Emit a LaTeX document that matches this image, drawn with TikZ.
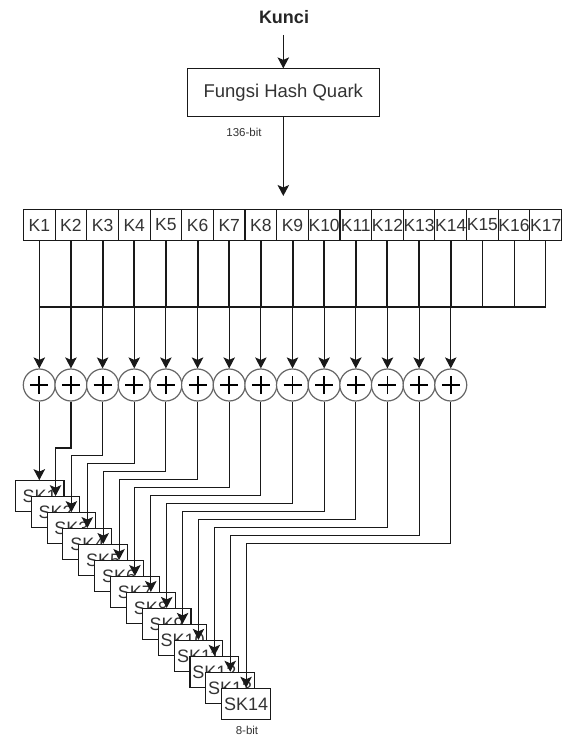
\documentclass[tikz,border=0pt]{standalone}
\usepackage{fontspec}
\setmainfont{Liberation Sans}
\usetikzlibrary{arrows.meta}
\begin{document}
\begin{tikzpicture}[x=1pt,y=1pt,
  ln/.style={line width=1.1pt,draw=black!90},
  arr/.style={ln,-{Stealth[length=11pt,width=11.5pt,inset=2.5pt]}},
  kcell/.style={draw=black!90,line width=1.1pt,fill=white,minimum width=31.65pt,minimum height=31.7pt,inner sep=0pt,font=\fontsize{17.5}{19}\selectfont,text=black!80},
  skbox/.style={draw=black!90,line width=1.1pt,fill=white,minimum width=48.7pt,minimum height=31.2pt,inner sep=0pt,font=\fontsize{18}{20}\selectfont,text=black!80},
  xorc/.style={circle,draw=black!60,line width=1.2pt,fill=white,minimum size=32pt,inner sep=0pt},
  small/.style={font=\fontsize{11.5}{13}\selectfont,text=black!80}]
\useasboundingbox (0,0) rectangle (565,-738);

% top part
\node[font=\bfseries\fontsize{18}{20}\selectfont,text=black!85] (kunci) at (284,-17) {Kunci};
\node[draw=black!90,line width=1.1pt,fill=white,minimum width=192pt,minimum height=47.7pt,inner sep=0pt,font=\fontsize{18.5}{20}\selectfont,text=black!80] (hash) at (283.3,-92.8) {Fungsi Hash Quark};
\coordinate (kin) at (283.3,-35);
\draw[arr] (kin) -- (hash.north);
\node[small] (b136) at (244,-132) {136-bit};
\coordinate (hout) at (283.3,-196);
\draw[arr] (hash.south) -- (hout);

% key cells
\foreach \i in {1,...,17}{
  \node[kcell] (K\i) at ({39.3+31.65*(\i-1)},-225) {K\i};
  \coordinate (b\i) at ({39.3+31.65*(\i-1)},-307);
}
% bracket lines
\foreach \i in {1,...,17}{
  \draw[ln] (K\i.south) -- (b\i);
}
\draw[ln] (b1) -- (b17);
\foreach \i in {2,...,14}{
  \draw[line width=2pt,draw=black!90] (K\i.south) -- (b\i);
}

% xor circles
\foreach \i in {1,...,14}{
  \node[xorc] (c\i) at ({39.3+31.65*(\i-1)},-385) {};
  \draw[line width=1.9pt] ([xshift=-9pt]c\i.center) -- ([xshift=9pt]c\i.center);
  \draw[line width=1.9pt] ([yshift=-9pt]c\i.center) -- ([yshift=9pt]c\i.center);
  \draw[arr] (b\i) -- (c\i.north);
}

% SK boxes
\foreach \i in {1,...,14}{
  \node[skbox] (s\i) at ({39.65+15.88*(\i-1)},{-(496.3+15.97*(\i-1))}) {SK\i};
}
\node[small] (b8) at (247,-730) {8-bit};

% arrows circles -> boxes
\draw[arr] (c1.south) -- (c1.south |- s1.north);
\foreach \i in {2,...,14}{
  \coordinate (t\i) at (0,{-448-7.94*(\i-2)});
  \draw[arr,rounded corners=0pt] (c\i.south) -- (c\i.south |- t\i) -| (s\i.north);
}
\end{tikzpicture}
\end{document}
